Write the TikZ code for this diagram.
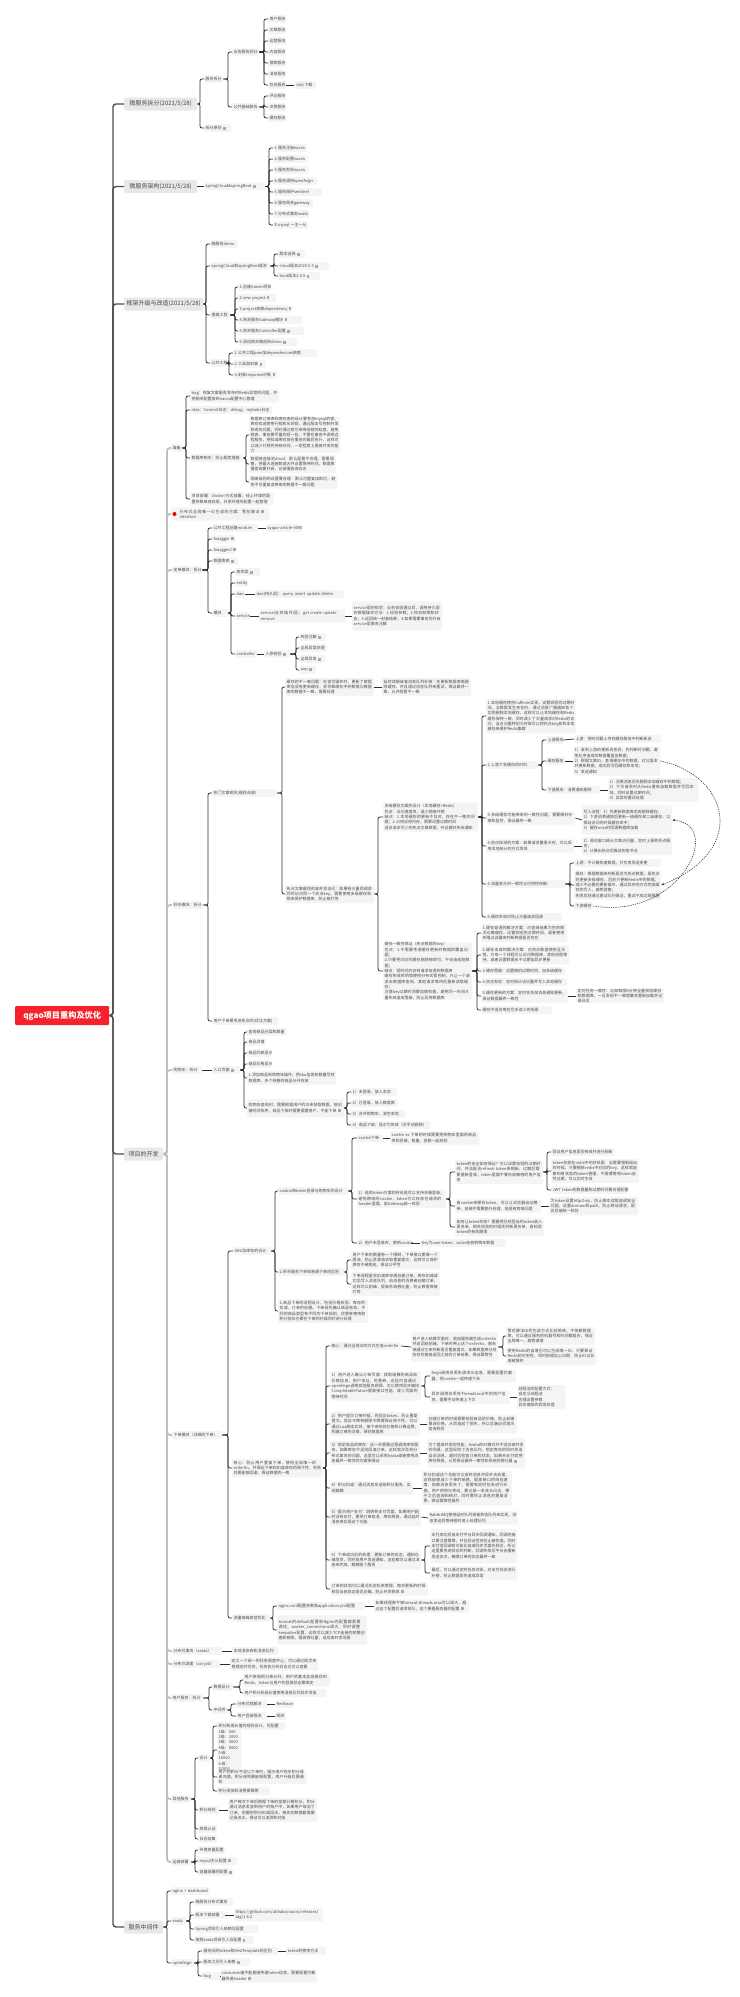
\documentclass[tikz,border=0pt]{standalone}
\usepackage{fontspec}
\setmainfont{Noto Sans CJK SC}
\usetikzlibrary{calc,arrows.meta}
\XeTeXlinebreaklocale "zh"
\XeTeXlinebreakskip=0pt plus 0.6pt
\definecolor{nbg}{HTML}{F4F4F4}
\definecolor{lbg}{HTML}{E8E8E8}
\definecolor{txt}{HTML}{4A4A4A}
\definecolor{lnk}{HTML}{2E2E2E}
\definecolor{icn}{HTML}{A8A8A8}
\definecolor{rootred}{RGB}{245,34,45}
\tikzset{
 nb/.style={fill=nbg,rounded corners=1.5pt,inner xsep=1.5pt,inner ysep=0pt,anchor=west,align=left,text=txt,font=\fontsize{4}{5.33}\selectfont},
 lone/.style={fill=lbg,rounded corners=1.5pt,inner sep=0pt,anchor=west,align=center,text=txt,font=\fontsize{6}{7}\selectfont,minimum height=13pt},
 rootb/.style={fill=rootred,rounded corners=1pt,inner sep=0pt,anchor=west,align=center,text=white,font=\fontsize{8.2}{10}\selectfont\bfseries},
 cn/.style={draw=lnk,line width=.75pt,rounded corners=2pt},
 tk/.style={draw=lnk!85!white,line width=1.4pt,rounded corners=3pt},
 lg/.style={draw=black!25,line width=1.8pt,rounded corners=3pt},
 dsh/.style={draw=lnk,line width=.55pt,dashed,dash pattern=on 1.2pt off 1pt,-{Stealth[length=3pt,width=2.4pt]}},
}
\newcommand\nd[6]{%
 \pgfmathsetmacro\mywid{#3-#2-3}\pgfmathsetmacro\myhgt{#5*5.33+2.5}%
 \node[nb,text width=\mywid pt,minimum height=\myhgt pt] (#1) at (#2,#4) {\ifnum#5=1 \mbox{#6}\else #6\fi};}
\newcommand\lo[5]{\pgfmathsetmacro\mywid{#3-#2}\node[lone,minimum width=\mywid pt] (#1) at (#2,#4) {#5};}
\newcommand\br[4][cn]{\foreach \chd in {#4}{\draw[#1] let \p1=(#2.east),\p2=(\chd.west) in (\p1) -- (#3pt,\y1) -- (#3pt,\y2) -- (\p2);}}
\newcommand\dl[2]{\draw[cn] (#1.east) -- (#2.west);}
\newcommand\ic{\hspace{1.5pt}\textcolor{icn}{\rule[-.2pt]{2.4pt}{3pt}}}
\begin{document}
\begin{tikzpicture}[x=1pt,y=-1pt]
\useasboundingbox (0,0) rectangle (739,1997);
\fill[white] (0,0) rectangle (739,1997);
% root and first level
\node[rootb,minimum width=94pt,minimum height=19pt] (root) at (15,1015.5) {qgao项目重构及优化};
\lo{A}{124}{197}{104}{微服务拆分(2021/5/28)}
\lo{B}{124}{197}{186.5}{微服务架构(2021/5/28)}
\lo{C}{124}{203}{304}{框架升级与改造(2021/5/28)}
\lo{D}{124}{163}{1154}{项目的开发}
\lo{E}{124}{163}{1927}{服务中间件}
% A
\nd{a1}{204}{223}{79}{1}{服务拆分}
\nd{a2}{204}{231}{128}{1}{拆分原则\ic}
\nd{a11}{232}{259}{52}{1}{业务服务划分}
\nd{a12}{232}{259}{107}{1}{公共基础服务}
\nd{s1}{268}{286}{19}{1}{用户服务}
\nd{s2}{268}{286}{30}{1}{文章服务}
\nd{s3}{268}{286}{41}{1}{运营服务}
\nd{s4}{268}{286}{52}{1}{内容服务}
\nd{s5}{268}{286}{63}{1}{搜索服务}
\nd{s6}{268}{286}{74}{1}{消息服务}
\nd{s7}{268}{286}{85}{1}{任务服务}
\nd{s8}{294}{316}{85}{1}{Job/下载}
\nd{s9}{268}{286}{96}{1}{评论服务}
\nd{s10}{268}{286}{107}{1}{点赞服务}
\nd{s11}{268}{286}{118}{1}{缓存服务}
% B
\nd{b1}{204}{265}{186.5}{1}{springCloud\&springBoot\ic}
\nd{b2}{273}{307}{148}{1}{1.服务注册nacos}
\nd{b3}{273}{308}{159}{1}{2.服务配置nacos}
\nd{b4}{273}{308}{170}{1}{3.服务发现nacos}
\nd{b5}{273}{317}{181}{1}{4.服务调用openfeign}
\nd{b6}{273}{322}{192}{1}{5.服务保护sentinel}
\nd{b7}{273}{313}{203}{1}{6.服务网关gateway}
\nd{b8}{273}{309}{214}{1}{7.分布式事务seata}
\nd{b9}{273}{308}{225}{1}{8.mysql 一主一从}
% C
\nd{c1}{210}{238}{244}{1}{微服务demo}
\nd{c2}{210}{270}{266}{1}{springCloud和springBoot版本}
\nd{c21}{278}{305}{254}{1}{版本选择\ic}
\nd{c22}{278}{329}{266}{1}{cloud版本2020.0.3\ic}
\nd{c23}{278}{320}{276}{1}{boot版本2.4.5\ic}
\nd{c3}{210}{230}{315}{1}{搭建工程}
\nd{c31}{238}{270}{287}{1}{1.创建maven项目}
\nd{c32}{238}{276}{298}{1}{2.new project\ic}
\nd{c33}{238}{292}{309}{1}{3.project依赖dependency\ic}
\nd{c34}{238}{302}{320}{1}{4.网关服务Gateway模块\ic}
\nd{c35}{238}{304}{331}{1}{5.网关服务Controller配置\ic}
\nd{c36}{238}{297}{342}{1}{6.测试网关路由到demo\ic}
\nd{c4}{210}{226}{363}{1}{公共工程}
\nd{c41}{233}{317}{353}{1}{1.公共工程pom加dependencies依赖}
\nd{c42}{233}{266}{364}{1}{2.工具类封装\ic}
\nd{c43}{233}{277}{375}{1}{3.封装response对象\ic}
% D level two
\nd{d1}{171}{182}{448}{1}{准备}
\nd{d11}{190}{279}{396}{2}{bug：修复文章服务发布时Redis异常的问题，并把相关配置放到nacos配置中心管理}
\nd{d12}{190}{272}{410}{1}{idea：Commit日志：debug、mybatis日志}
\nd{d13}{190}{243}{458}{1}{数据库相关：防止超卖措施}
\nd{d131}{249}{340}{435}{6}{数据库订单表和库存表的设计要考虑mysql的锁，库存扣减使用行锁和乐观锁，通过版本号控制并发修改的问题，同时通过索引来降低锁的粒度，避免锁表，事务要尽量的短一些，不要在事务中调用远程服务，把扣减库存放在事务的最后执行，这样可以减少行锁的持有时间，一定程度上提高并发的能力}
\nd{d132}{249}{336}{464}{3}{数据库连接池druid：默认配置不合理，需要调整，把最大连接数调大并设置等待时间，数据库慢查询要开启，记录慢查询日志}
\nd{d133}{249}{337}{482}{2}{隔离级别的设置要合理：默认可重复读即可，避免不可重复读带来的数据不一致问题}
\nd{d14}{190}{273}{499}{2}{项目部署：Docker方式部署，线上环境的配置参数单独存放，开发环境的配置一起管理}
\nd{d2}{171}{269}{514}{2}{\hspace{7pt}\parbox[t]{80pt}{分布式全局唯一ID生成的方案：雪花算法interface}\ic}
\nd{d3}{172}{202}{570}{1}{定单模块：拆分}
\nd{d31}{212}{258}{528}{1}{公共工程创建module}
\nd{d32}{266}{302}{528}{1}{xyqao-article-9090}
\nd{d33}{212}{235}{539}{1}{Swagger\ic}
\nd{d34}{212}{235}{550}{1}{Swagger2\ic}
\nd{d35}{212}{238}{561}{1}{数据库表\ic}
\nd{d36}{212}{228}{613}{1}{模块}
\nd{d361}{235}{260}{572}{1}{枚举类\ic}
\nd{d362}{235}{248}{583}{1}{entity}
\nd{d363}{235}{245}{594}{1}{dao}
\nd{d3631}{255}{344}{594}{1}{dao(持久层)：query insert update delete}
\nd{d364}{235}{250}{616}{1}{service}
\nd{d3641}{259}{345}{616}{2}{service(业务操作层)：get create update remove}
\nd{d3642}{352}{442}{616}{5}{service层的规范：业务校验通过后，调用持久层的数据操作方法：1.校验参数；2.校验权限和状态；3.返回统一封装结果；4.如果需要事务则开启service层事务注解}
\nd{d365}{235}{257}{654}{1}{controller}
\nd{d3651}{264}{290}{654}{1}{入参校验\ic}
\nd{d3652}{299}{326}{637}{1}{校验注解\ic}
\nd{d3653}{299}{327}{648}{1}{全局异常处理}
\nd{d3654}{299}{325}{659}{1}{全局异常\ic}
\nd{d3655}{299}{316}{670}{1}{aop\ic}
\nd{d4}{172}{203}{905}{1}{秒杀模块：拆分}
\nd{d41}{212}{277}{793}{1}{热门文章相关(缓存击穿)}
\nd{d42}{212}{278}{1021}{1}{用户下单要考虑热点的(优化方案)}
\nd{e1}{285}{374}{687}{3}{缓存的不一致问题：在读写操作时，更新了数据库但没有更新缓存，会导致缓存中的数据与数据库的数据不一致，需要处理}
\nd{e11}{382}{471}{687}{3}{延时双删或者消息队列补偿：先更新数据库再删除缓存，并且通过消息队列来重试，保证最终一致，允许短暂不一致}
\nd{e2}{285}{374}{894}{3}{热点文章缓存的高并发访问：如果有大量的请求同时访问同一个热点key，需要使用多级缓存和锁来保护数据库，防止被打垮}
\nd{f1}{383}{478}{817}{5}{多级缓存方案的设计（本地缓存+Redis）\\优点：访问速度快，减少网络开销\\缺点：1.本地缓存的更新不及时，存在不一致的问题；2.占用应用内存，需要设置过期时间\\适合读多写少的热点文章数据，并且做好失效通知}
\nd{g1}{486}{576}{716}{6}{1.本地缓存使用Caffeine实现，设置较短的过期时间，当数据发生变化时，通过消息广播通知各个实例删除本地缓存，这样可以让本地缓存和Redis缓存保持一致，同时减少了大量请求对Redis的访问，当访问量特别大时候可以把热点key放到本地缓存来保护Redis集群}
\nd{g2}{486}{538}{765}{1}{2.上游下发缓存的时机：}
\nd{g21}{546}{563}{740}{1}{上游服务}
\nd{g22}{574}{661}{739}{1}{上游：把时间戳上传到缓存服务中判断新旧}
\nd{g23}{546}{565}{761}{1}{缓存服务}
\nd{g24}{573}{660}{761}{5}{1）收到上游的更新消息后，先判断时间戳，避免乱序造成的数据覆盖旧数据；\\2）根据文章ID，查询缓存中的数据，对比版本并更新数据，成功后写回缓存和本地；\\3）发送通知}
\nd{g25}{546}{600}{790}{1}{下游服务：消费通知删除}
\nd{g26}{608}{698}{790}{4}{1）消费消息后先删除本地缓存中的数据；\\2）下次请求时从Redis重新加载数据并写回本地，同时设置过期时间；\\3）异常时重试处理}
\nd{g3}{486}{575}{818}{2}{3.多级缓存可能带来的一致性问题，需要做好补偿和监控，保证最终一致}
\nd{g31}{582}{672}{820}{5}{写入流程：1）先更新数据库后再删除缓存；\\2）下游消费通知后更新一级缓存和二级缓存，以保证访问的时候缓存命中；\\3）缓存miss时回源数据库加载}
\nd{g4}{486}{574}{846}{2}{4.热点探测的方案：如果请求量很大时，可以采用本地统计的方式发现}
\nd{g41}{582}{672}{846}{3}{1）滑动窗口统计文章访问量，定时上报到热点服务；\\2）计算出热点后推送到各节点}
\nd{g5}{486}{565}{884}{1}{5.流量变大时一致性与可用性权衡：}
\nd{g51}{574}{661}{863}{1}{上游：不计算热度数据，只负责发送变更}
\nd{g52}{574}{661}{885}{5}{缓存：根据数据来判断是否为热点数据，是热点则更新多级缓存，否则只更新Redis中的数据，减少不必要的更新操作，通过异步的方式完成缓存的写入，避免阻塞；\\失败后则通过重试队列保证，重试不成功再报警}
\nd{g53}{574}{593}{906}{1}{下游缓存}
\nd{g6}{486}{562}{917}{1}{6.缓存失效时防止大量请求回源}
\nd{f2}{383}{472}{971}{10}{缓存一致性保证（热点数据的key）\\优点：1.不需要考虑缓存更新时数据的覆盖问题；\\2.只要把对应的缓存删除掉即可，不会造成脏数据；\\缺点：短时间内会有请求穿透到数据库\\缓存失效时的锁使用分布式锁控制，只让一个请求去数据库查询，其他请求等待后重新读取缓存；\\注意key过期时间要加随机值，避免同一时间大量失效造成雪崩，防止压垮数据库}
\nd{h1}{481}{567}{933}{3}{1.缓存穿透的解决方案：对查询结果为空的情况也做缓存，设置较短的过期时间，或者使用布隆过滤器来判断数据是否存在}
\nd{h2}{481}{569}{955}{3}{2.缓存击穿的解决方案：对热点数据使用互斥锁，只有一个线程可以访问数据库，其他线程等待，或者设置数据永不过期加异步更新}
\nd{h3}{481}{565}{971}{1}{3.缓存雪崩：设置随机过期时间，加多级缓存}
\nd{h4}{481}{567}{982}{1}{4.热点发现：定时统计访问量并写入本地缓存}
\nd{h5}{481}{568}{996}{2}{5.缓存更新的方案：定时任务加消息通知更新，保证数据最终一致性}
\nd{h51}{576}{664}{996}{2}{定时任务一致性：比如每隔5分钟全量校验缓存和数据库，一旦发现不一致就触发重新加载并记录日志}
\nd{h6}{481}{552}{1010}{1}{缓存不适合用在写多读少的场景}
% d5
\nd{i}{172}{202}{1070}{1}{购物车：拆分}
\nd{i0}{212}{240}{1070}{1}{入口页面\ic}
\nd{i1}{247}{287}{1032}{1}{查询商品分类和数量}
\nd{i2}{247}{266}{1042}{1}{商品详情}
\nd{i3}{247}{271}{1053}{1}{商品列表显示}
\nd{i4}{247}{271}{1064}{1}{商品价格显示}
\nd{i5}{247}{336}{1078}{2}{1.添加商品到购物车操作，把sku信息和数量写到数据库，多个规格的商品分开存放}
\nd{i6}{247}{344}{1108}{3}{购物车查询时，需要根据用户的ID来获取数据，按创建时间排序，商品下架时需要提醒用户，不能下单\ic}
\nd{i61}{351}{397}{1092}{1}{1）未登录，放入本地}
\nd{i62}{351}{398}{1103}{1}{2）已登录，放入数据库}
\nd{i63}{351}{405}{1114}{1}{3）合并购物车，清空本地}
\nd{i64}{351}{430}{1125}{1}{4）商品下架，显示为失效（可手动删除）}
% d6
\nd{j}{172}{222}{1435}{1}{下单模块（详细的下单）}
\nd{j1}{233}{271}{1251}{1}{SKU及库存的设计}
\nd{j11}{278}{348}{1191}{1}{cookie和token登录与购物车的设计}
\nd{j111}{357}{383}{1138}{1}{cookie下单}
\nd{j1111}{390}{479}{1138}{2}{cookie vs 下单的时候需要把购物车里面的商品传到后端，数量、金额一起校验}
\nd{j112}{357}{446}{1199}{3}{1）选用token方案的好处是可以支持多端登录，避免跨域的cookie，token可以存放在请求的header里面，由Gateway统一校验}
\nd{j1121}{455}{543}{1172}{4}{token的安全如何保证？可以设置较短的过期时间，并且配合refresh token来刷新，过期后需要重新登录，token里面不要存放敏感的用户信息}
\nd{j11211}{551}{615}{1152}{1}{验证用户信息是否有效并进行刷新}
\nd{j11212}{551}{639}{1171}{4}{token存放在redis中的好处是：当需要强制退出的时候，只要删除redis中对应的key，这样就能做到有状态的token管理，不需要等到token自然过期，可以实时生效}
\nd{j11213}{551}{627}{1190}{1}{JWT token的数据量和过期时间要合理配置}
\nd{j1122}{455}{541}{1206}{2}{由cookie来保存token，可以让浏览器自动携带，前端不需要额外处理，但是有跨域问题}
\nd{j11221}{549}{638}{1206}{3}{为token设置httpOnly，防止脚本读取造成安全问题，设置domain和path，防止跨站请求，配合后端统一校验}
\nd{j1123}{455}{544}{1227}{3}{如何让token失效？需要把已经登出的token放入黑名单，网关校验的时候先判断黑名单，再校验token的有效期限}
\nd{j113}{357}{411}{1243}{1}{2）用户未登录时，使用cookie}
\nd{j1131}{420}{506}{1243}{1}{Key为user-token，value存放购物车数据}
\nd{j12}{278}{344}{1272}{1}{2.秒杀服务下单和普通下单的区别}
\nd{j121}{351}{440}{1260}{3}{用户下单的数量有一个限制，下单接口要做一个限流，防止恶意请求和重复提交，这样可以保护库存不被刷走，保证公平性}
\nd{j122}{351}{440}{1284}{4}{下单流程是先扣减库存再创建订单，库存扣减成功后写入消息队列，由消息的消费者创建订单，这样可以削峰，提高系统吞吐量，防止数据库被打垮}
\nd{j13}{278}{368}{1311}{4}{1.商品下单的流程设计，包括价格校验、库存的扣减、订单的创建。下单前先确认商品有效，不同的商品类型有不同的下单规则，优惠券使用和积分抵扣也要在下单的时候同时进行处理}
\nd{j2}{232}{323}{1468}{3}{核心：防止用户重复下单，使用全局唯一的orderSn，并保证下单和扣减库存的原子性，失败后要能够回滚，保证数据的一致}
\nd{p1}{330}{401}{1346}{1}{核心：通过全局ID的方式生成orderSn}
\nd{p11}{411}{498}{1347}{5}{用户进入结算页面时，就由服务端生成orderSn并返回给前端，下单时带上这个orderSn，服务端通过它来判断是否重复提交，如果数据库已经存在则直接返回之前的订单结果，保证幂等性}
\nd{p111}{506}{595}{1336}{3}{雪花算法ID的生成方式比较简单，不依赖数据库，可以通过服务的机器号和时间戳组合，保证全局唯一，趋势递增}
\nd{p112}{506}{596}{1356}{3}{使用Redis的自增也可以生成唯一ID，只要保证Redis的可用性，同时前缀加上日期，防止ID过长或被猜到}
\nd{p2}{330}{421}{1386}{5}{1）用户进入确认订单页面：获取结算的商品和价格信息，用户地址、优惠券，这些内容通过openfeign调用其他服务获得，可以使用异步编排CompletableFuture提高接口性能，减少页面的等待时间}
\nd{p21}{430}{516}{1376}{2}{feign调用会丢失请求头信息，需要配置拦截器，把cookie一起传递下去}
\nd{p22}{430}{510}{1397}{2}{异步调用会丢失ThreadLocal中的用户信息，需要手动传递上下文}
\nd{p221}{517}{565}{1397}{4}{线程池的配置方式：\\自定义线程池\\合理设置参数\\异步编排的异常处理}
\nd{p3}{330}{420}{1424}{4}{2）用户提交订单时候，先验证token，防止重复提交。验证令牌和删除令牌要保证原子性，可以通过Lua脚本实现，接下来校验价格和计算运费，构建订单的详情，保存数据库}
\nd{p31}{427}{517}{1424}{3}{创建订单的时候需要校验商品的价格，防止前端篡改价格，从而造成了损失，所以后端必须再次查询校验}
\nd{p4}{330}{420}{1453}{4}{3）锁定商品的库存：这一步需要远程调用库存服务，如果库存不足则回滚订单，这样就涉及到分布式事务的问题，这里可以采用Seata或者使用消息最终一致性的方案来保证}
\nd{p41}{427}{525}{1453}{5}{为了提高并发的性能，Seata的AT模式并不适合高并发的场景，这里采用了消息队列，锁定库存的同时发送延迟消息，超时后检查订单的状态，如果未支付就把库存释放，从而保证最终一致性和系统的吞吐量\ic}
\nd{p5}{330}{413}{1488}{2}{4）积分扣减：通过消息发送给积分服务，实现解耦}
\nd{p51}{422}{512}{1488}{6}{积分扣减这个功能可以放到消息中异步去处理，这样能够减少下单的链路，提高接口的响应速度，如果消息丢失了，需要有定时任务进行补偿。用户的积分变动，要记录一条流水日志，便于之后查询和核对，同时要防止消息的重复消费，保证幂等性操作}
\nd{p6}{330}{421}{1517}{3}{5）提示用户支付：跳转到支付页面，如果用户超时没有支付，要把订单取消，库存释放，通过延时消息来实现这个功能}
\nd{p61}{428}{518}{1518}{2}{RabbitMQ使用延时队列或者死信队列来实现，消息发送后等待超时进入处理队列}
\nd{p7}{330}{421}{1560}{3}{6）下单成功后的处理：更新订单的状态，通知仓储发货，同时给用户发送通知，这些都可以通过消息来完成，解耦各个服务}
\nd{p71}{430}{517}{1546}{6}{支付成功后由支付平台异步回调通知，回调的接口要注意幂等，并且验证签名防止被伪造。同时支付宝回调有可能比前端同步页面先到达，所以这里要考虑状态的判断，回调失败后平台会重新发送多次，确保订单的状态最终一致}
\nd{p72}{430}{517}{1573}{2}{最后，可以通过定时任务对账，对支付状态进行补偿，防止数据丢失造成异常}
\nd{p8}{330}{428}{1589}{2}{订单的状态可以通过状态机来管理，每次更新的时候校验当前状态是否正确，防止并发修改\ic}
\nd{j3}{232}{270}{1618}{1}{流量高峰其他优化}
\nd{j31}{277}{365}{1606}{1}{nginx.conf配置参数和application.yml配置}
\nd{j311}{374}{469}{1606}{2}{如果线程数不够tomcat.threads.max可以调大，超过这个配置后请求排队，这个要看服务器的配置\ic}
\nd{j32}{277}{367}{1630}{5}{tomcat的default配置和Nginx的配置都需要调优，worker\_connections调大，同时调整keepalive配置，这样可以减少TCP连接的频繁创建和销毁，提高吞吐量，适应高并发场景}
\nd{d7}{172}{222}{1651}{1}{分布式事务（seata）}
\nd{d71}{232}{278}{1651}{1}{本地消息表和消息队列}
\nd{d8}{172}{220}{1664}{1}{分布式调度（xxl-job）}
\nd{d81}{230}{318}{1664}{2}{定义一个统一的任务调度中心，可以通过网页来管理定时任务，任务执行的日志也可以查看}
\nd{d9}{171}{203}{1698}{1}{用户服务：拆分}
\nd{k1}{212}{233}{1687}{1}{数据设计}
\nd{k11}{243}{330}{1680}{2}{用户表和积分表分开，用户的基本信息缓存到Redis，token与用户的登录状态要绑定}
\nd{k12}{243}{326}{1693}{1}{用户积分和成长值使用消息队列异步发放}
\nd{k2}{212}{227}{1710}{1}{中间件}
\nd{k21}{236}{267}{1704}{1}{分布式锁解决}
\nd{k211}{275}{294}{1704}{1}{Redisson}
\nd{k22}{236}{267}{1716}{1}{用户登录限流}
\nd{k221}{275}{286}{1716}{1}{网关}
\nd{d10}{171}{191}{1799}{1}{其他服务}
\nd{m1}{198}{210}{1758}{1}{设计}
\nd{m11}{217}{285}{1726}{1}{积分和成长值的规则设计，可配置}
\nd{m12}{217}{241}{1750}{6}{1级：500\\2级：2000\\3级：4000\\4级：8000\\5级：16000\\6级：32000}
\nd{m13}{217}{306}{1777}{2}{用户的积分不足以下单时，提示用户购买积分或者充值，积分规则要能够配置，用户升级后要通知}
\nd{m14}{217}{270}{1791}{1}{积分发放和消费要幂等}
\nd{m2}{198}{219}{1810}{1}{积分规则}
\nd{m21}{228}{317}{1810}{4}{用户每次下单后根据下单的金额计算积分，积分通过消息发放到用户的账户中，如果用户取消了订单，则要把积分扣减回去，相关的数据都需要记录流水，保证可以追溯和对账}
\nd{m3}{198}{217}{1829}{1}{权限认证}
\nd{m4}{198}{217}{1839}{1}{日志收集}
\nd{d11x}{171}{191}{1862}{1}{运维部署}
\nd{n1}{198}{225}{1850}{1}{环境变量配置}
\nd{n2}{198}{237}{1861}{1}{mysql主从配置\ic}
\nd{n3}{198}{233}{1872}{1}{容器部署的配置\ic}
% E
\nd{o1}{171}{210}{1891}{1}{nginx + dashboard}
\nd{o2}{171}{186}{1921}{1}{seata}
\nd{o21}{194}{233}{1902}{1}{微服务分布式事务}
\nd{o22}{194}{225}{1915}{1}{版本下载部署}
\nd{o221}{234}{323}{1915}{2}{https://github.com/alibaba/nacos/releases/tag/1.4.2}
\nd{o23}{194}{258}{1929}{1}{Spring项目引入依赖及配置}
\nd{o24}{194}{254}{1940}{1}{按照seata项目引入及配置\ic}
\nd{o3}{171}{194}{1963}{1}{openfeign}
\nd{o31}{202}{278}{1951}{1}{服务间的token和RestTemplate的区别}
\nd{o311}{286}{326}{1951}{1}{token的使用方法}
\nd{o32}{202}{250}{1962}{1}{服务之间引入依赖\ic}
\nd{o33}{202}{220}{1976}{1}{bug}
\nd{o331}{220}{317}{1976}{2}{consumer端不能直接传递token信息，需要配置拦截器传递header\ic}
% connectors
\br[tk]{root}{113}{A,B,C,D,E}
\br{A}{200}{a1,a2}
\br{a1}{228}{a11,a12}
\br{a11}{264}{s1,s2,s3,s4,s5,s6,s7}
\dl{s7}{s8}
\br{a12}{264}{s9,s10,s11}
\dl{B}{b1}
\br{b1}{269}{b2,b3,b4,b5,b6,b7,b8,b9}
\br{C}{206}{c1,c2,c3,c4}
\br{c2}{274}{c21,c22,c23}
\br{c3}{235}{c31,c32,c33,c34,c35,c36}
\br{c4}{229}{c41,c42,c43}
\br[lg]{D}{167}{d1,d2,d3,d4,i,j,d7,d8,d9,d10,d11x}
\br{d1}{186}{d11,d12,d13,d14}
\br{d13}{246}{d131,d132,d133}
\br{d3}{208}{d31,d33,d34,d35,d36}
\dl{d31}{d32}
\br{d36}{231}{d361,d362,d363,d364,d365}
\dl{d363}{d3631}\dl{d364}{d3641}\dl{d3641}{d3642}\dl{d365}{d3651}
\br{d3651}{296}{d3652,d3653,d3654,d3655}
\br{d4}{208}{d41,d42}
\br{d41}{282}{e1,e2}
\dl{e1}{e11}
\br{e2}{378}{f1,f2}
\br{f1}{482}{g1,g2,g3,g4,g5,g6}
\br{g2}{542}{g21,g23,g25}
\dl{g21}{g22}\dl{g23}{g24}\dl{g25}{g26}\dl{g3}{g31}\dl{g4}{g41}
\br{g5}{570}{g51,g52,g53}
\br{f2}{477}{h1,h2,h3,h4,h5,h6}
\dl{h5}{h51}
\draw[dsh] (g24.east) .. controls (728,775) and (750,850) .. (g52.east);
\draw[dsh] (g53.east) .. controls (680,920) and (725,825) .. (g31.east);
\dl{i}{i0}
\br{i0}{244}{i1,i2,i3,i4,i5,i6}
\br{i6}{347}{i61,i62,i63,i64}
\br{j}{228}{j1,j2,j3}
\br{j1}{275}{j11,j12,j13}
\br{j11}{352}{j111,j112,j113}
\dl{j111}{j1111}\dl{j113}{j1131}
\br{j112}{450}{j1121,j1122,j1123}
\br{j1121}{547}{j11211,j11212,j11213}
\dl{j1122}{j11221}
\br{j12}{347}{j121,j122}
\br{j2}{326}{p1,p2,p3,p4,p5,p6,p7,p8}
\dl{p1}{p11}
\br{p11}{503}{p111,p112}
\br{p2}{425}{p21,p22}
\dl{p22}{p221}\dl{p3}{p31}\dl{p4}{p41}\dl{p5}{p51}\dl{p6}{p61}
\br{p7}{425}{p71,p72}
\br{j3}{273}{j31,j32}
\dl{j31}{j311}
\dl{d7}{d71}\dl{d8}{d81}
\br{d9}{209}{k1,k2}
\br{k1}{240}{k11,k12}
\br{k2}{231}{k21,k22}
\dl{k21}{k211}\dl{k22}{k221}
\br{d10}{195}{m1,m2,m3,m4}
\br{m1}{213}{m11,m12,m13,m14}
\dl{m2}{m21}
\br{d11x}{195}{n1,n2,n3}
\br{E}{167}{o1,o2,o3}
\br{o2}{190}{o21,o22,o23,o24}
\dl{o22}{o221}
\br{o3}{198}{o31,o32,o33}
\dl{o31}{o311}\dl{o33}{o331}
\fill[red!90!black] (174.5,514) circle (2pt);
\end{tikzpicture}
\end{document}
